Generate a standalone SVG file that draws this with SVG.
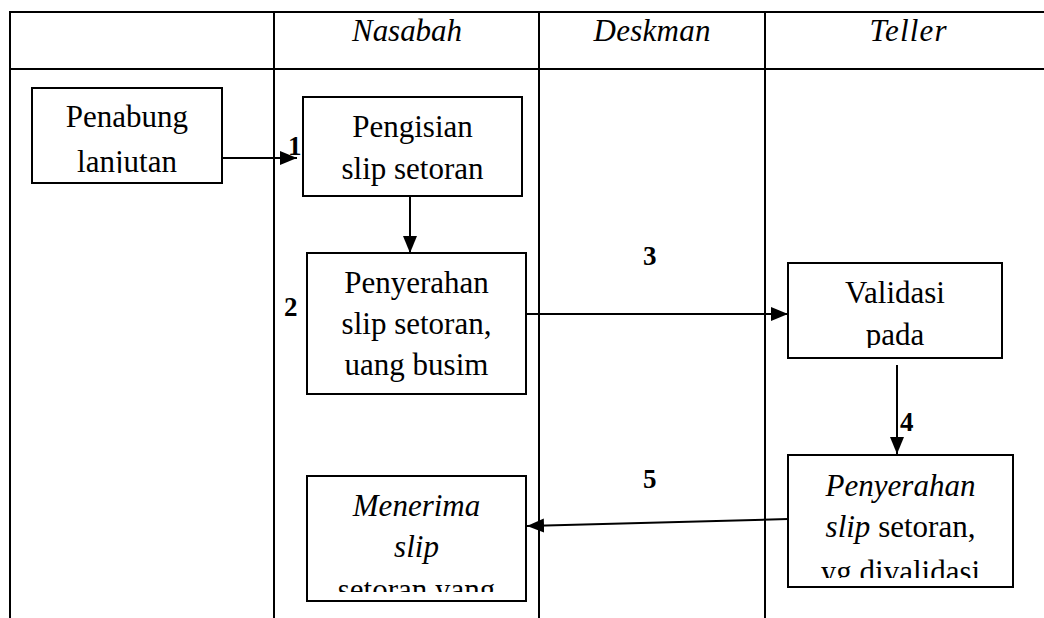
<svg xmlns="http://www.w3.org/2000/svg" width="1044" height="618" viewBox="0 0 1044 618">
  <style>
    .grid { stroke: #000; stroke-width: 2; fill: none; }
    .box { stroke: #000; stroke-width: 2; fill: #fff; }
    text { font-family: 'Liberation Serif', 'DejaVu Serif', serif; fill: #000; }
    .t { font-size: 31px; text-anchor: middle; }
    .i { font-style: italic; }
    .hd { font-size: 31px; font-style: italic; text-anchor: middle; }
    .num { font-size: 27px; font-weight: bold; }
    .conn { stroke: #000; stroke-width: 2; fill: none; marker-end: url(#arrow); }
  </style>
  <defs>
    <marker id="arrow" markerUnits="userSpaceOnUse" markerWidth="17" markerHeight="16" refX="17" refY="8" orient="auto">
      <path d="M0,1 L17,8 L0,15 Z" fill="#000"/>
    </marker>
    <clipPath id="clipPenabung"><rect x="32" y="88" width="190" height="85"/></clipPath>
    <clipPath id="clipPengisian"><rect x="303" y="97" width="219" height="89"/></clipPath>
    <clipPath id="clipPenyerahan"><rect x="307" y="253" width="219" height="131"/></clipPath>
    <clipPath id="clipValidasi"><rect x="788" y="263" width="214" height="85"/></clipPath>
    <clipPath id="clipPenyerahan2"><rect x="788" y="455" width="225" height="123"/></clipPath>
    <clipPath id="clipMenerima"><rect x="307" y="476" width="219" height="116"/></clipPath>
  </defs>

  <rect width="1044" height="618" fill="#fff"/>

  <!-- swimlane table -->
  <g id="table">
    <line class="grid" x1="10" y1="12" x2="1044" y2="12"/>
    <line class="grid" x1="10" y1="69" x2="1044" y2="69"/>
    <line class="grid" x1="10" y1="11" x2="10" y2="618"/>
    <line class="grid" x1="274" y1="11" x2="274" y2="618"/>
    <line class="grid" x1="539" y1="11" x2="539" y2="618"/>
    <line class="grid" x1="765" y1="11" x2="765" y2="618"/>
    <text class="hd" x="407" y="41" textLength="110" lengthAdjust="spacing">Nasabah</text>
    <text class="hd" x="652" y="41" textLength="117" lengthAdjust="spacing">Deskman</text>
    <text class="hd" x="908" y="41" textLength="77" lengthAdjust="spacing">Teller</text>
  </g>

  <!-- connectors -->
  <g id="connectors">
    <line class="conn" x1="222" y1="158" x2="297" y2="158"/>
    <line class="conn" x1="410" y1="196" x2="410" y2="253"/>
    <line class="conn" x1="526" y1="314" x2="788" y2="314"/>
    <line class="conn" x1="897" y1="365" x2="897" y2="454"/>
    <line class="conn" x1="788" y1="519" x2="527" y2="526"/>
    <text class="num" x="288" y="155">1</text>
    <text class="num" x="284" y="316">2</text>
    <text class="num" x="643" y="265">3</text>
    <text class="num" x="900" y="431">4</text>
    <text class="num" x="643" y="488">5</text>
  </g>

  <g id="penabung">
    <rect class="box" x="32" y="88" width="190" height="95"/>
    <g clip-path="url(#clipPenabung)">
      <text class="t" x="127" y="127">Penabung</text>
      <text class="t" x="127" y="172">lanjutan</text>
    </g>
  </g>

  <g id="pengisian">
    <rect class="box" x="303" y="97" width="219" height="99"/>
    <g clip-path="url(#clipPengisian)">
      <text class="t" x="412.5" y="137">Pengisian</text>
      <text class="t" x="412.5" y="179">slip setoran</text>
    </g>
  </g>

  <g id="penyerahan">
    <rect class="box" x="307" y="253" width="219" height="141"/>
    <g clip-path="url(#clipPenyerahan)">
      <text class="t" x="416.5" y="293">Penyerahan</text>
      <text class="t" x="416.5" y="334">slip setoran,</text>
      <text class="t" x="416.5" y="375">uang busim</text>
    </g>
  </g>

  <g id="validasi">
    <rect class="box" x="788" y="263" width="214" height="95"/>
    <g clip-path="url(#clipValidasi)">
      <text class="t" x="895" y="303">Validasi</text>
      <text class="t" x="895" y="345">pada</text>
    </g>
  </g>

  <g id="penyerahan-validasi">
    <rect class="box" x="788" y="455" width="225" height="132"/>
    <g clip-path="url(#clipPenyerahan2)">
      <text class="t i" x="900.5" y="496">Penyerahan</text>
      <text class="t" x="900.5" y="537"><tspan class="i">slip</tspan> setoran,</text>
      <text class="t" x="900.5" y="582">yg divalidasi</text>
    </g>
  </g>

  <g id="menerima">
    <rect class="box" x="307" y="476" width="219" height="125"/>
    <g clip-path="url(#clipMenerima)">
      <text class="t i" x="416.5" y="516">Menerima</text>
      <text class="t i" x="416.5" y="557">slip</text>
      <text class="t" x="416.5" y="600">setoran yang</text>
    </g>
  </g>
</svg>
